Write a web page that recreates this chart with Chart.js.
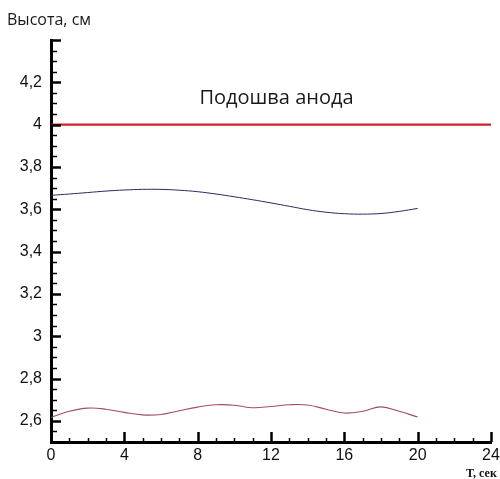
<!DOCTYPE html>
<html>
<head>
<meta charset="utf-8">
<script src="https://cdn.jsdelivr.net/npm/chart.js@4.4.1/dist/chart.umd.min.js"></script>
<style>
  html, body { margin: 0; padding: 0; background: #fff; }
  #wrap { width: 500px; height: 479px; position: relative; }
</style>
</head>
<body>
<div id="wrap"><canvas id="c" width="500" height="479"></canvas></div>
<script>
// Time, s
const times = [0,1,2,3,4,5,6,7,8,9,10,11,12,13,14,15,16,17,18,19,20];
// Upper trace, cm
const upperHeight = [3.666,3.672,3.679,3.686,3.691,3.694,3.694,3.690,3.683,3.672,3.659,3.645,3.630,3.614,3.598,3.586,3.579,3.577,3.580,3.590,3.604];
// Lower trace, cm
const lowerHeight = [2.616,2.645,2.660,2.655,2.640,2.628,2.630,2.648,2.665,2.676,2.674,2.662,2.668,2.676,2.675,2.655,2.637,2.645,2.666,2.645,2.618];
// Anode sole level
const anodeLevel = 4;
const anodeSpan = [0, 24];
const anodeLabel = 'Подошва анода';
// Axis ticks
const xTicks = [0,4,8,12,16,20,24];
const yTicks = [2.6,2.8,3,3.2,3.4,3.6,3.8,4,4.2];
const xRange = [0, 24];
const yRange = [2.5, 4.4];
const yTitle = 'Высота, см';
const xTitle = 'T, сек';

const FONT = '"Liberation Sans", Arial, sans-serif';
const TEXT_FONT = '"Open Sans", "Noto Sans", sans-serif';

const toPts = (xs, ys) => xs.map((x, i) => ({ x, y: ys[i] }));

// Inward tick marks, axis captions and the level label
const decor = {
  id: 'decor',
  afterDraw(chart) {
    const ctx = chart.ctx;
    const xs = chart.scales.x, ys = chart.scales.y;
    const ca = chart.chartArea;
    ctx.save();
    ctx.strokeStyle = '#000';
    // y ticks: minor every 0.05, major every 0.2
    const nY = Math.round((yRange[1] - yRange[0]) / 0.05);
    for (let k = 0; k <= nY; k++) {
      const v = yRange[0] + k * 0.05;
      const major = (k - 2) % 4 === 0;
      const py = Math.round(ys.getPixelForValue(v)) + 0.5;
      ctx.lineWidth = major ? 2.5 : 1.5;
      ctx.beginPath();
      ctx.moveTo(ca.left, py);
      ctx.lineTo(ca.left + (major ? 10 : 6), py);
      ctx.stroke();
    }
    // x ticks: minor every 1, major every 4
    for (let t = xRange[0]; t <= xRange[1]; t++) {
      const major = t % 4 === 0;
      const px = Math.round(xs.getPixelForValue(t)) + 0.5;
      ctx.lineWidth = major ? 2.5 : 1.5;
      ctx.beginPath();
      ctx.moveTo(px, ca.bottom);
      ctx.lineTo(px, ca.bottom - (major ? 10 : 4));
      ctx.stroke();
    }
    // level label
    ctx.fillStyle = '#1a1a1a';
    ctx.font = '20px ' + TEXT_FONT;
    ctx.textAlign = 'center';
    ctx.textBaseline = 'middle';
    ctx.fillText(anodeLabel, xs.getPixelForValue(12.3), ys.getPixelForValue(4.123));
    // axis captions
    ctx.font = '16px ' + TEXT_FONT;
    ctx.textAlign = 'left';
    ctx.textBaseline = 'middle';
    ctx.fillText(yTitle, 7, 20);
    ctx.fillStyle = '#111';
    ctx.font = 'bold 12px "Liberation Serif", "Times New Roman", serif';
    ctx.textBaseline = 'alphabetic';
    ctx.fillText(xTitle, 466, 477);
    ctx.restore();
  }
};

new Chart(document.getElementById('c'), {
  type: 'line',
  data: {
    datasets: [
      {
        data: toPts(anodeSpan, [anodeLevel, anodeLevel]),
        borderColor: '#d0202a', borderWidth: 2.2, pointRadius: 0, tension: 0
      },
      {
        data: toPts(times, upperHeight),
        borderColor: '#2a2a60', borderWidth: 1, pointRadius: 0, tension: 0.4
      },
      {
        data: toPts(times, lowerHeight),
        borderColor: '#a0505a', borderWidth: 1.1, pointRadius: 0, tension: 0.4
      }
    ]
  },
  options: {
    responsive: false,
    animation: false,
    layout: { padding: { left: 0, top: 40, right: 9, bottom: 0 } },
    plugins: { legend: { display: false }, tooltip: { enabled: false } },
    scales: {
      x: {
        type: 'linear',
        min: xRange[0], max: xRange[1],
        afterBuildTicks: s => { s.ticks = xTicks.map(v => ({ value: v })); },
        afterFit: s => { s.height = 37; s.paddingLeft = 0; s.paddingRight = 0; },
        grid: { display: false },
        border: { display: true, color: '#000', width: 3 },
        ticks: {
          color: '#111', font: { family: FONT, size: 16 }, padding: -4,
          maxRotation: 0, autoSkip: false,
          callback: v => String(v)
        }
      },
      y: {
        type: 'linear',
        min: yRange[0], max: yRange[1],
        afterBuildTicks: s => { s.ticks = yTicks.map(v => ({ value: v })); },
        afterFit: s => { s.width = 51; s.paddingTop = 0; s.paddingBottom = 0; },
        grid: { display: false },
        border: { display: true, color: '#000', width: 3 },
        ticks: {
          color: '#111', font: { family: FONT, size: 16 }, padding: 1,
          autoSkip: false,
          callback: v => String(v).replace('.', ',')
        }
      }
    }
  },
  plugins: [decor]
});
</script>
</body>
</html>
